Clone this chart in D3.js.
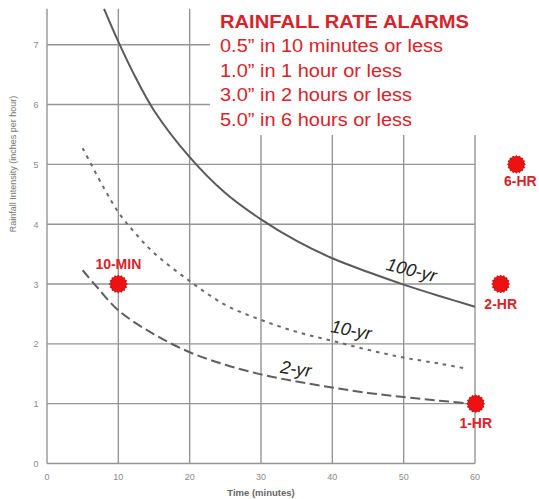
<!DOCTYPE html>
<html><head><meta charset="utf-8">
<script src="https://cdn.jsdelivr.net/npm/d3@7"></script>
<style>html,body{margin:0;padding:0;background:#fff;}svg{display:block;}</style>
</head><body>
<script>
// ---- data ----
const xTicks = [0, 10, 20, 30, 40, 50, 60];
const yTicks = [0, 1, 2, 3, 4, 5, 6, 7];

const x100 = [8, 10, 12, 15, 20, 25, 30, 35, 40, 45, 50, 55, 60];
const y100 = [7.6, 7.05, 6.55, 5.9, 5.12, 4.52, 4.08, 3.72, 3.43, 3.2, 2.99, 2.8, 2.62];

const x10 = [5, 8, 10, 12, 15, 20, 25, 30, 35, 40, 45, 50, 55, 59];
const y10 = [5.27, 4.6, 4.2, 3.9, 3.52, 3.05, 2.65, 2.4, 2.2, 2.05, 1.9, 1.77, 1.67, 1.58];

const x2 = [5, 7, 10, 15, 20, 25, 30, 35, 40, 45, 50, 55, 59.5];
const y2 = [3.23, 2.95, 2.56, 2.16, 1.86, 1.65, 1.49, 1.37, 1.27, 1.18, 1.11, 1.05, 1.0];

const curveNames = ["100-yr", "10-yr", "2-yr"];

const alarmNames = ["10-MIN", "1-HR", "2-HR", "6-HR"];
const alarmX = [10, 60.1, 63.6, 65.8];
const alarmY = [3.0, 1.0, 3.0, 5.0];

const titleText = "RAINFALL RATE ALARMS";
const alarmLines = ["0.5\u201D in 10 minutes or less", "1.0\u201D in 1 hour or less",
                    "3.0\u201D in 2 hours or less", "5.0\u201D in 6 hours or less"];

const xTitle = "Time (minutes)";
const yTitle = "Rainfall Intensity (inches per hour)";

// ---- drawing ----
const W = 539, H = 499;
const svg = d3.select("body").append("svg").attr("width", W).attr("height", H)
  .style("font-family", "Liberation Sans, Arial, sans-serif");

const x = d3.scaleLinear().domain([0, 60]).range([47, 475]);
const y = d3.scaleLinear().domain([0, 7.6]).range([463.5, 8.8]);

const gridColor = "#959595";
svg.append("g").selectAll("line").data(xTicks).join("line")
  .attr("x1", d => x(d)).attr("x2", d => x(d))
  .attr("y1", y(7.6)).attr("y2", y(0))
  .attr("stroke", gridColor).attr("stroke-width", 1.4);
svg.append("g").selectAll("line").data(yTicks).join("line")
  .attr("x1", x(0)).attr("x2", x(60))
  .attr("y1", d => y(d)).attr("y2", d => y(d))
  .attr("stroke", gridColor).attr("stroke-width", 1.4);

svg.append("g").selectAll("text").data(yTicks).join("text")
  .attr("x", 36).attr("y", d => y(d) + 3.5)
  .attr("text-anchor", "middle").attr("font-size", 9).attr("fill", "#8a8a8a")
  .text(d => d);
svg.append("g").selectAll("text").data(xTicks).join("text")
  .attr("x", d => x(d)).attr("y", 480)
  .attr("text-anchor", "middle").attr("font-size", 9).attr("fill", "#8a8a8a")
  .text(d => d);

svg.append("text").attr("x", 261).attr("y", 496).attr("text-anchor", "middle")
  .attr("font-size", 9.5).attr("font-weight", "bold").attr("fill", "#666").text(xTitle);
svg.append("text").attr("transform", "translate(16,164) rotate(-90)")
  .attr("text-anchor", "middle").attr("font-size", 9).attr("fill", "#777").text(yTitle);

svg.append("rect").attr("x", 210).attr("y", 0).attr("width", W - 210).attr("height", 135).attr("fill", "#fff");

const line = d3.line().x(d => x(d[0])).y(d => y(d[1])).curve(d3.curveCatmullRom.alpha(0.5));
const curves = [
  {pts: d3.zip(x100, y100), dash: null, color: "#5a5a5a"},
  {pts: d3.zip(x10, y10), dash: "3.5,5", color: "#6a6a6a"},
  {pts: d3.zip(x2, y2), dash: "10,4.5", color: "#5f5f5f"}
];
curves.forEach(c => {
  svg.append("path").attr("d", line(c.pts)).attr("fill", "none")
    .attr("stroke", c.color).attr("stroke-width", 2)
    .attr("stroke-dasharray", c.dash);
});

const labelPos = [[410, 276, 14], [350, 336, 11], [295, 375, 8]];
curveNames.forEach((n, i) => {
  svg.append("text")
    .attr("transform", `translate(${labelPos[i][0]},${labelPos[i][1]}) rotate(${labelPos[i][2]})`)
    .attr("text-anchor", "middle").attr("font-size", 18).attr("font-style", "italic")
    .attr("fill", "#222").text(n);
});

function burst(r1, r2, n) {
  const pts = [];
  for (let i = 0; i < n * 2; i++) {
    const a = Math.PI * i / n;
    const r = i % 2 === 0 ? r1 : r2;
    pts.push([r * Math.cos(a), r * Math.sin(a)]);
  }
  return "M" + pts.map(p => p.join(",")).join("L") + "Z";
}
const red = "#ee1111";
const labelDy = [-15, 24, 25, 22];
alarmNames.forEach((n, i) => {
  const cx = x(alarmX[i]), cy = y(alarmY[i]);
  svg.append("path").attr("d", burst(9, 7.6, 16)).attr("transform", `translate(${cx},${cy})`)
    .attr("fill", red).attr("stroke", "#a00000").attr("stroke-width", 0.6);
  svg.append("text").attr("x", cx + (i === 3 ? 4 : 0)).attr("y", cy + labelDy[i])
    .attr("text-anchor", "middle").attr("font-size", 14).attr("font-weight", "bold")
    .attr("fill", "#d9232a").text(n);
});

// title block
const lineWidths = [223, 182, 192, 192];
svg.append("text").attr("x", 220).attr("y", 28).attr("font-size", 17.5).attr("font-weight", "bold")
  .attr("textLength", 249).attr("lengthAdjust", "spacingAndGlyphs")
  .attr("fill", "#d9232a").text(titleText);
alarmLines.forEach((t, i) => {
  svg.append("text").attr("x", 220).attr("y", 52 + i * 24.5).attr("font-size", 18)
    .attr("textLength", lineWidths[i]).attr("lengthAdjust", "spacingAndGlyphs")
    .attr("fill", "#d9232a").text(t);
});
</script>
</body></html>
